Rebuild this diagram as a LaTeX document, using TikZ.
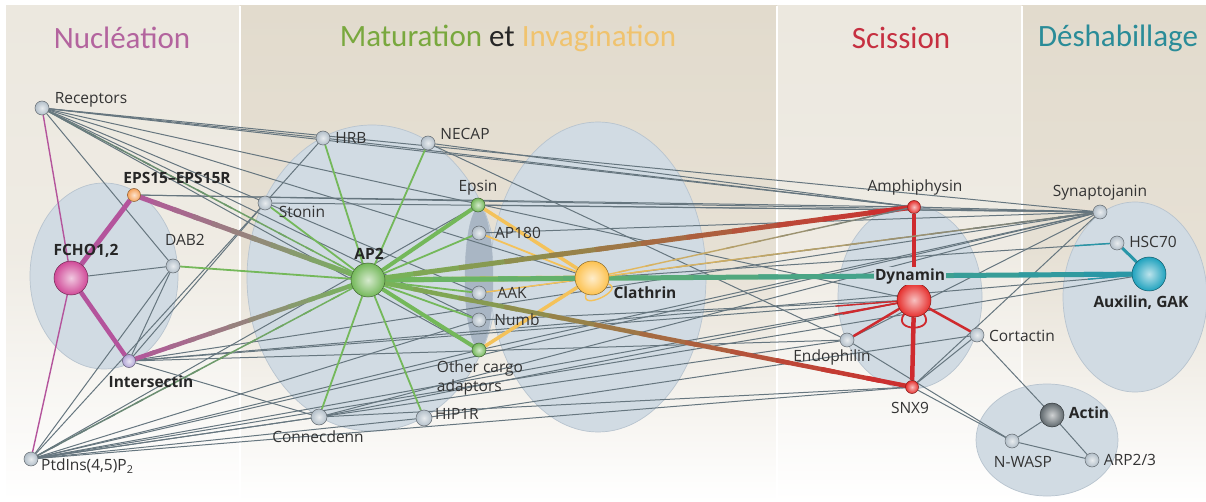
\documentclass[tikz,border=0pt]{standalone}
\usepackage{fontspec}
\setmainfont{Open Sans}
\newfontfamily\titlefont{Carlito}
\usetikzlibrary{positioning,calc}

\pgfdeclarelayer{back}
\pgfdeclarelayer{links}
\pgfsetlayers{back,links,main}

\definecolor{panelA}{HTML}{ECE8DF}
\definecolor{panelB}{HTML}{E2DBCD}
\definecolor{blobfill}{HTML}{D1DBE3}
\definecolor{blobline}{HTML}{B8C4CF}
\definecolor{blobdark}{HTML}{A9B6C4}
\definecolor{linkgrey}{HTML}{66767F}
\definecolor{nodegrey}{HTML}{B3BFC9}
\definecolor{apgreen}{HTML}{74B85A}
\definecolor{fchomag}{HTML}{B4549C}
\definecolor{fchoball}{HTML}{D04A98}
\definecolor{epsball}{HTML}{F5A35C}
\definecolor{itsnball}{HTML}{B3A6D6}
\definecolor{clatyel}{HTML}{F4C25A}
\definecolor{clatball}{HTML}{FDC250}
\definecolor{dynred}{HTML}{CF2A2E}
\definecolor{dynball}{HTML}{E6302E}
\definecolor{auxteal}{HTML}{2896A8}
\definecolor{auxball}{HTML}{1FA2BE}
\definecolor{actinball}{HTML}{5F686D}
\definecolor{nuclcol}{HTML}{B3649E}
\definecolor{maturcol}{HTML}{79A83E}
\definecolor{invagcol}{HTML}{F0C36E}
\definecolor{scisscol}{HTML}{C63041}
\definecolor{deshcol}{HTML}{2A8C98}

% thick links that change colour from one end to the other
\newcommand{\gradlink}[5]{%
  \foreach \k in {0,...,11}{
    \pgfmathsetmacro{\pa}{\k/12}
    \pgfmathsetmacro{\pb}{min(1,(\k+1.3)/12)}
    \pgfmathtruncatemacro{\pc}{100-(\k+0.5)*100/12}
    \draw[line width=#5, color=#3!\pc!#4] ($(#1.center)!\pa!(#2.center)$) -- ($(#1.center)!\pb!(#2.center)$);
  }}

\tikzset{
  prot/.style={circle, inner sep=0pt, minimum size=14pt, inner color=#1!30!white, outer color=#1, draw=#1!55!black, line width=0.5pt},
  prot/.default=nodegrey,
  hub/.style={prot=#1, minimum size=34pt},
  lbl/.style={font=\fontsize{15.5}{19}\selectfont, text=black!80, inner sep=1pt},
  blbl/.style={font=\fontsize{15.5}{19}\selectfont\bfseries, text=black!85, inner sep=1pt},
  ttl/.style={font=\titlefont\fontsize{31}{34}\selectfont, inner sep=0pt},
  blob/.style={fill=blobfill, draw=blobline, line width=0.7pt},
  link/.style={draw=linkgrey, line width=1pt},
  greenlink/.style={draw=apgreen, line width=1.8pt},
  yellink/.style={draw=clatyel, line width=1.8pt},
  redlink/.style={draw=dynred, line width=2.5pt},
  maglink/.style={draw=fchomag, line width=1.4pt}
}

\begin{document}
\begin{tikzpicture}[x=1pt,y=-1pt]
\useasboundingbox (0,0) rectangle (1206,502);

% panels
\begin{pgfonlayer}{back}
\fill[white] (0,0) rectangle (1206,502);
\fill[top color=panelA, bottom color=white, middle color=panelA!85!white] (6,6) rectangle (240,502);
\fill[top color=panelB, bottom color=white, middle color=panelB!85!white] (240,6) rectangle (777,502);
\fill[top color=panelA, bottom color=white, middle color=panelA!85!white] (777,6) rectangle (1022,502);
\fill[top color=panelB, bottom color=white, middle color=panelB!85!white] (1022,6) rectangle (1206,502);
\draw[white, line width=1.5pt] (240,6) -- (240,502) (777,6) -- (777,502) (1022,6) -- (1022,502);

% groups
\draw[blob] (104,276) ellipse [x radius=74, y radius=93];
\draw[blob] (372,278) ellipse [x radius=125, y radius=153];
\draw[blob] (598,277) ellipse [x radius=108, y radius=155];
\draw[fill=blobdark, draw=blobdark] (479,278) ellipse [x radius=14, y radius=70];
\draw[blob] (910,297) ellipse [x radius=72, y radius=92];
\draw[blob] (1135,297) ellipse [x radius=72, y radius=95];
\draw[blob] (1047,440) ellipse [x radius=71, y radius=56];
\end{pgfonlayer}

% titles
\node[ttl, text=nuclcol] (tnuc) at (122,38) {Nucléation};
\node[ttl] (tmat) at (508,38) {\textcolor{maturcol}{Maturation} \textcolor{black!85}{et} \textcolor{invagcol}{Invagination}};
\node[ttl, text=scisscol] (tsci) at (901,38) {Scission};
\node[ttl, text=deshcol] (tdes) at (1118,38) {Déshabillage};

% proteins
\node[prot] (rec) at (42,108) {};
\node[prot=epsball, minimum size=13pt] (eps) at (134,195) {};
\node[hub=fchoball] (fcho) at (71,278) {};
\node[prot] (dab) at (173,266) {};
\node[prot=itsnball, minimum size=13pt] (itsn) at (129,361) {};
\node[prot] (pip) at (31,459) {};
\node[prot] (hrb) at (323,138) {};
\node[prot] (necap) at (428,143) {};
\node[prot] (ston) at (265,203) {};
\node[hub=apgreen] (ap2) at (368,280) {};
\node[prot=apgreen] (epsin) at (478,205) {};
\node[prot] (apx) at (479,233) {};
\node[prot] (aak) at (479,293) {};
\node[prot] (numb) at (479,320) {};
\node[prot=apgreen] (oca) at (479,350) {};
\node[prot, minimum size=16pt] (hip) at (424,418) {};
\node[prot, minimum size=16pt] (cnd) at (319,417) {};
\node[hub=clatball] (clat) at (592,278) {};
\node[prot=dynball, minimum size=13pt] (amph) at (914,207) {};
\node[hub=dynball] (dyn) at (914,300) {};
\node[prot] (endo) at (847,340) {};
\node[prot] (cort) at (977,335) {};
\node[prot=dynball, minimum size=13pt] (snx) at (912,387) {};
\node[prot] (synj) at (1100,212) {};
\node[prot] (hsc) at (1117,243) {};
\node[hub=auxball] (aux) at (1149,274) {};
\node[prot=actinball, minimum size=24pt] (actin) at (1052,415) {};
\node[prot] (nwasp) at (1012,441) {};
\node[prot] (arp) at (1092,460) {};

% names
\node[lbl] (recL) at (91,100) {Receptors};
\node[blbl] (epsL) at (177,178) {EPS15–EPS15R};
\node[blbl] (fchoL) at (86,251) {FCHO1,2};
\node[lbl] (dabL) at (185,240) {DAB2};
\node[blbl] (itsnL) at (151,382) {Intersectin};
\node[lbl, anchor=west] (pipL) at (40,466) {PtdIns(4,5)P\textsubscript{2}};
\node[lbl] (hrbL) at (351,138) {HRB};
\node[lbl] (necapL) at (465,134) {NECAP};
\node[lbl] (stonL) at (302,212) {Stonin};
\node[blbl] (ap2L) at (369,254) {AP2};
\node[lbl] (epsinL) at (478,188) {Epsin};
\node[lbl] (apxL) at (518,233) {AP180};
\node[lbl] (aakL) at (512,293) {AAK};
\node[lbl] (numbL) at (517,320) {Numb};
\node[lbl, align=left] (ocaL) at (480,378) {Other cargo\\adaptors};
\node[lbl] (hipL) at (457,414) {HIP1R};
\node[lbl] (cndL) at (318,437) {Connecdenn};
\node[blbl] (clatL) at (645,293) {Clathrin};
\node[lbl] (amphL) at (915,187) {Amphiphysin};
\node[blbl, fill=blobfill] (dynL) at (910,276) {Dynamin};
\node[lbl] (endoL) at (832,357) {Endophilin};
\node[lbl] (cortL) at (1022,336) {Cortactin};
\node[lbl] (snxL) at (910,408) {SNX9};
\node[lbl] (synjL) at (1100,193) {Synaptojanin};
\node[lbl] (hscL) at (1153,242) {HSC70};
\node[blbl] (auxL) at (1141,303) {Auxilin, GAK};
\node[blbl] (actinL) at (1089,413) {Actin};
\node[lbl] (nwaspL) at (1023,462) {N-WASP};
\node[lbl] (arpL) at (1130,460) {ARP2/3};

\begin{pgfonlayer}{links}
% grey interactions
\foreach \a/\b in {rec/dab, rec/hrb, rec/synj, rec/amph, rec/aak, rec/numb, rec/oca, rec/dyn, rec/clat,
    eps/amph, eps/synj, fcho/dab, dab/itsn, dab/pip,
    itsn/ston, itsn/cnd, itsn/dyn, itsn/synj, itsn/endo,
    ston/hrb, ston/pip, ston/synj, hrb/amph, necap/amph, necap/endo,
    pip/epsin, pip/numb, pip/oca, pip/cnd, pip/hip, pip/dyn, pip/endo, pip/snx, pip/synj, pip/aux,
    cnd/synj, cnd/dyn, cnd/snx, hip/cort, oca/synj, numb/dyn, aak/synj, apx/synj, epsin/synj,
    amph/synj, endo/synj, synj/snx, cort/actin, cort/snx, endo/nwasp, snx/nwasp,
    nwasp/actin, actin/arp, nwasp/arp, hsc/clat, aux/itsn}
  \draw[link] (\a) -- (\b);

% coloured ends of grey links
\foreach \a/\b/\c/\f in {dyn/itsn/dynred/0.1, dyn/pip/dynred/0.09, dyn/cnd/dynred/0.12,
    hsc/clat/auxteal/0.08, aux/itsn/auxteal/0.06}
  \draw[\c, line width=1.4pt] (\a.center) -- ($(\a.center)!\f!(\b.center)$);

% nucleation
\draw[maglink] (rec) -- (fcho);
\draw[maglink] (pip) -- (fcho);
\draw[maglink, line width=5pt] (eps) -- (fcho);
\draw[maglink, line width=4.5pt] (fcho) -- (itsn);

% AP2 hub
\foreach \b in {hrb, necap, ston, dab, cnd, hip, apx, aak, numb}
  \draw[greenlink] (ap2) -- (\b);
\draw[greenlink, line width=4pt] (ap2) -- (epsin);
\draw[greenlink, line width=4pt] (ap2) -- (oca);

% clathrin
\draw[yellink, line width=3.5pt] (clat) -- (epsin);
\draw[yellink, line width=3.5pt] (clat) -- (oca);
\draw[yellink] (clat) -- (apx);
\draw[yellink, line width=1.4pt] (clat) -- (aak);
\path[yellink, line width=1.4pt] (clat) edge[loop below, out=-110, in=-20, min distance=18pt] (clat);

% scission
\draw[redlink, line width=4.5pt] (amph) -- (dyn);
\draw[redlink, line width=4.5pt] (dyn) -- (snx);
\draw[redlink] (dyn) -- (endo);
\draw[redlink] (dyn) -- (cort);
\path[redlink, line width=1.8pt] (dyn) edge[loop below, out=-125, in=-55, min distance=22pt] (dyn);

% uncoating
\draw[auxteal, line width=3pt] (hsc) -- (aux);

% links between stages
\gradlink{eps}{ap2}{fchomag}{apgreen}{5pt}
\gradlink{itsn}{ap2}{fchomag}{apgreen}{4.5pt}
\gradlink{ap2}{rec}{apgreen}{linkgrey}{1.5pt}
\gradlink{ap2}{pip}{apgreen}{linkgrey}{1.5pt}
\gradlink{ap2}{clat}{apgreen}{clatyel}{5pt}
\gradlink{ap2}{aux}{apgreen}{auxteal}{5pt}
\gradlink{ap2}{amph}{apgreen}{dynred}{5pt}
\gradlink{ap2}{snx}{apgreen}{dynred}{4.5pt}
\gradlink{clat}{amph}{clatyel}{linkgrey}{1.4pt}
\gradlink{clat}{synj}{clatyel}{linkgrey}{1.4pt}
\end{pgfonlayer}
\end{tikzpicture}
\end{document}
